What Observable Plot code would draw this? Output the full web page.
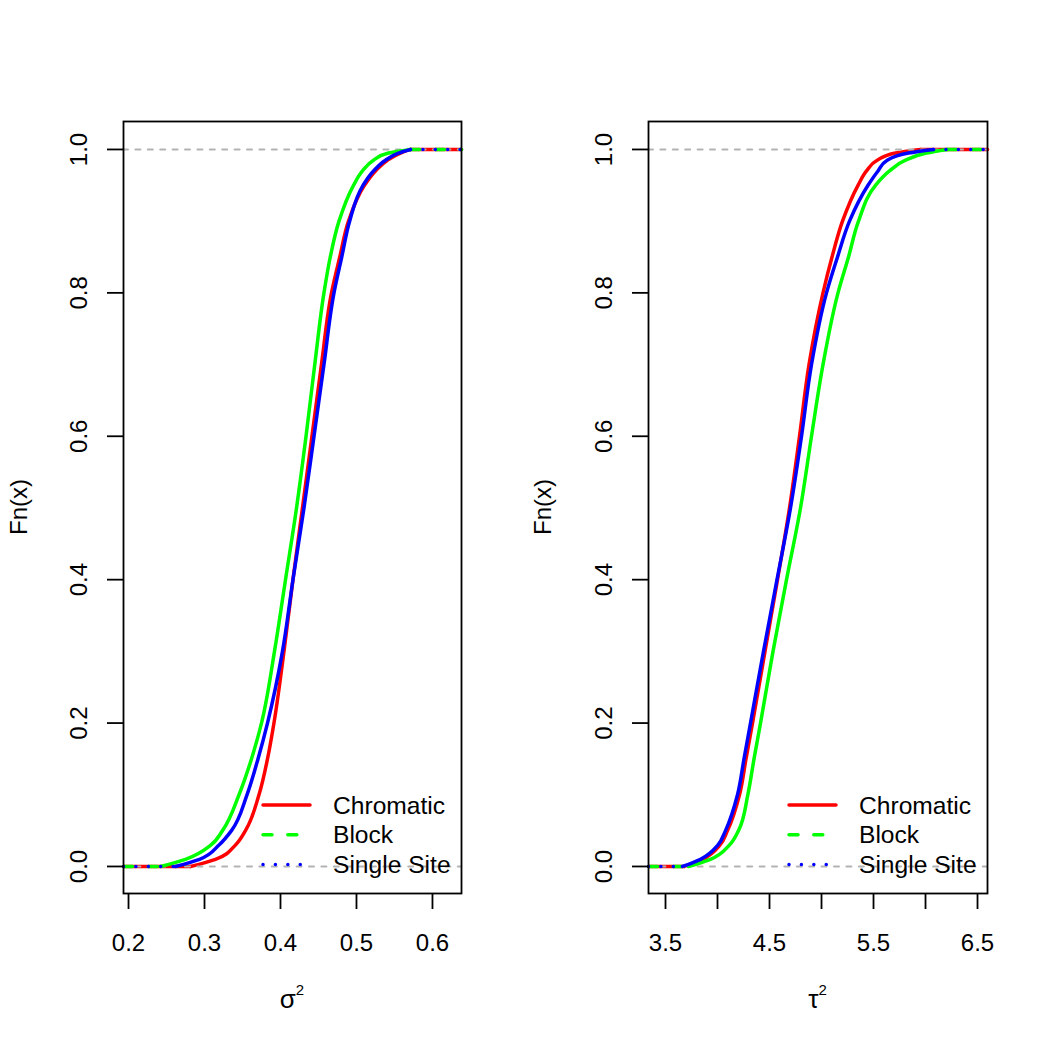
<!DOCTYPE html>
<html>
<head>
<meta charset="utf-8">
<script src="https://cdn.jsdelivr.net/npm/d3@7"></script>
<script src="https://cdn.jsdelivr.net/npm/@observablehq/plot@0.6"></script>
<style>
  html, body { margin: 0; padding: 0; background: #fff; }
  #charts { display: flex; width: 1048px; height: 1048px; }
  #charts svg { display: block; }
</style>
</head>
<body>
<div id="charts"></div>
<script>
// Cumulative probability levels at which each empirical CDF is traced
const probs = [0, 0.01, 0.03, 0.05, 0.1, 0.15, 0.2, 0.3, 0.4, 0.5, 0.6, 0.7, 0.8, 0.85, 0.9, 0.95, 0.97, 0.985, 0.995, 1];

// Posterior draws of sigma^2: sample value reached at each level of probs
const sigmaChromatic  = [0.2816, 0.3145, 0.3408, 0.3539, 0.3717, 0.3829, 0.3914, 0.4046, 0.4164, 0.4289, 0.4414, 0.4539, 0.4671, 0.4780, 0.4895, 0.5105, 0.5250, 0.5408, 0.5579, 0.5711];
const sigmaBlock      = [0.2421, 0.2750, 0.3086, 0.3237, 0.3454, 0.3618, 0.3750, 0.3921, 0.4066, 0.4211, 0.4336, 0.4451, 0.4572, 0.4655, 0.4770, 0.4961, 0.5079, 0.5224, 0.5421, 0.5711];
const sigmaSingleSite = [0.2618, 0.2934, 0.3191, 0.3355, 0.3559, 0.3704, 0.3829, 0.4026, 0.4164, 0.4309, 0.4441, 0.4572, 0.4704, 0.4806, 0.4910, 0.5086, 0.5224, 0.5382, 0.5553, 0.5711];

// Posterior draws of tau^2
const tauChromatic  = [3.6827, 3.8558, 4.0240, 4.0962, 4.2115, 4.2740, 4.3365, 4.4567, 4.5769, 4.6923, 4.7885, 4.8798, 5.0144, 5.1010, 5.2019, 5.3510, 5.4327, 5.5356, 5.7115, 5.9519];
const tauBlock      = [3.7212, 3.9327, 4.1154, 4.2019, 4.2913, 4.3510, 4.4135, 4.5337, 4.6635, 4.7981, 4.9038, 5.0144, 5.1587, 5.2596, 5.3558, 5.5192, 5.6538, 5.8077, 6.0096, 6.2087];
const tauSingleSite = [3.6635, 3.8365, 4.0048, 4.0769, 4.1923, 4.2548, 4.3173, 4.4423, 4.5721, 4.7019, 4.8077, 4.9038, 5.0481, 5.1538, 5.2692, 5.4471, 5.5433, 5.6317, 5.8365, 6.0769];

const methods = ["Chromatic", "Block", "Single Site"];

const sigmaTicks = [0.2, 0.3, 0.4, 0.5, 0.6];
const sigmaTickLabels = ["0.2", "0.3", "0.4", "0.5", "0.6"];
const tauTicks = [3.5, 4, 4.5, 5, 5.5, 6, 6.5];
const tauTickLabels = ["3.5", "", "4.5", "", "5.5", "", "6.5"];
const fnTicks = [0, 0.2, 0.4, 0.6, 0.8, 1];
const fnTickLabels = ["0.0", "0.2", "0.4", "0.6", "0.8", "1.0"];

const FONT = "'Liberation Sans', Arial, Helvetica, sans-serif";
const colors = ["#ff0000", "#00ff00", "#0000ff"];
const dashes = [null, "9,15.8", "0.01,12.4"];
const LW = 3.5;

function panel({ samples, domain, ticks, tickLabels, symbol, marginLeft, marginRight }) {
  const W = 524, H = 1048, mt = 121, mb = 155;

  const series = methods.map((m, i) => {
    const pts = probs.map((p, j) => ({ x: samples[i][j], F: p }));
    const first = pts[0], last = pts[pts.length - 1];
    return {
      body: pts,
      // flat parts of the step function, out to the edges of the plotting region
      lowTail: [{ x: domain[0], F: 0 }, first],
      highTail: [last, { x: domain[1], F: 1 }]
    };
  });

  const lineMarks = (i, solidTails) => {
    const s = series[i];
    const base = { x: "x", y: "F", stroke: colors[i], strokeWidth: LW, strokeLinejoin: "round", strokeLinecap: "round" };
    const tailOpts = solidTails ? base : { ...base, strokeDasharray: dashes[i] };
    return [
      Plot.line(s.body, { ...base, curve: "monotone-y" }),
      Plot.line(s.lowTail, tailOpts),
      Plot.line(s.highTail, tailOpts)
    ];
  };

  const svg = Plot.plot({
    width: W,
    height: H,
    marginLeft, marginRight,
    marginTop: mt,
    marginBottom: mb,
    style: { fontFamily: FONT, fontSize: "24px", background: "#fff", color: "#000" },
    x: { domain, label: null },
    y: { domain: [-0.0377, 1.039], label: null },
    marks: [
      ...lineMarks(0, true),
      Plot.ruleY([0, 1], { stroke: "#b3b3b3", strokeWidth: 2, strokeDasharray: "5,7.4", strokeLinecap: "round" }),
      ...lineMarks(1, false),
      ...lineMarks(2, false),
      Plot.frame({ stroke: "#000", strokeWidth: 1.8 }),
      Plot.axisX(ticks, {
        tickSize: 16, tickPadding: 24, strokeWidth: 1.8, fontSize: 24, label: null,
        tickFormat: d => tickLabels[ticks.indexOf(d)]
      }),
      // y ticks
      Plot.axisY(fnTicks, {
        tickSize: 16, strokeWidth: 1.8, label: null, tickFormat: () => ""
      }),
      // y tick labels, written parallel to the axis
      Plot.axisY(fnTicks, {
        tickSize: 0, tickPadding: 44, fontSize: 24, label: null,
        rotate: -90, textAnchor: "middle",
        tickFormat: d => fnTickLabels[fnTicks.indexOf(d)]
      })
    ]
  });

  const g = d3.select(svg);
  const frameRight = W - marginRight;
  const frameBottom = H - mb;
  const cx = (marginLeft + frameRight) / 2;

  // x-axis title with a superscript
  const xt = g.append("text")
    .attr("x", cx).attr("y", 1008)
    .attr("text-anchor", "middle")
    .attr("font-family", FONT).attr("font-size", 26).attr("fill", "#000");
  xt.append("tspan").text(symbol);
  xt.append("tspan").attr("dy", -13).attr("font-size", 15).text("2");

  // y-axis title
  g.append("text")
    .attr("transform", `translate(27,${(mt + frameBottom) / 2}) rotate(-90)`)
    .attr("text-anchor", "middle")
    .attr("font-family", FONT).attr("font-size", 24).attr("fill", "#000")
    .text("Fn(x)");

  // legend in the bottom-right corner of the plotting region
  methods.forEach((m, i) => {
    const ly = frameBottom - 88 + i * 29.7;
    const ln = g.append("line")
      .attr("x1", frameRight - 198).attr("x2", frameRight - 151)
      .attr("y1", ly).attr("y2", ly)
      .attr("stroke", colors[i]).attr("stroke-width", LW)
      .attr("stroke-linecap", "round");
    if (dashes[i]) ln.attr("stroke-dasharray", dashes[i]);
    g.append("text")
      .attr("x", frameRight - 128).attr("y", ly + 8.7)
      .attr("text-anchor", "start")
      .attr("font-family", FONT).attr("font-size", 24.6).attr("fill", "#000")
      .text(m);
  });

  return svg;
}

const container = document.getElementById("charts");
container.appendChild(panel({
  samples: [sigmaChromatic, sigmaBlock, sigmaSingleSite],
  domain: [0.1934, 0.6382],
  ticks: sigmaTicks,
  tickLabels: sigmaTickLabels,
  symbol: "σ",
  marginLeft: 123,
  marginRight: 63
}));
container.appendChild(panel({
  samples: [tauChromatic, tauBlock, tauSingleSite],
  domain: [3.3365, 6.596],
  ticks: tauTicks,
  tickLabels: tauTickLabels,
  symbol: "τ",
  marginLeft: 124,
  marginRight: 61
}));
</script>
</body>
</html>
